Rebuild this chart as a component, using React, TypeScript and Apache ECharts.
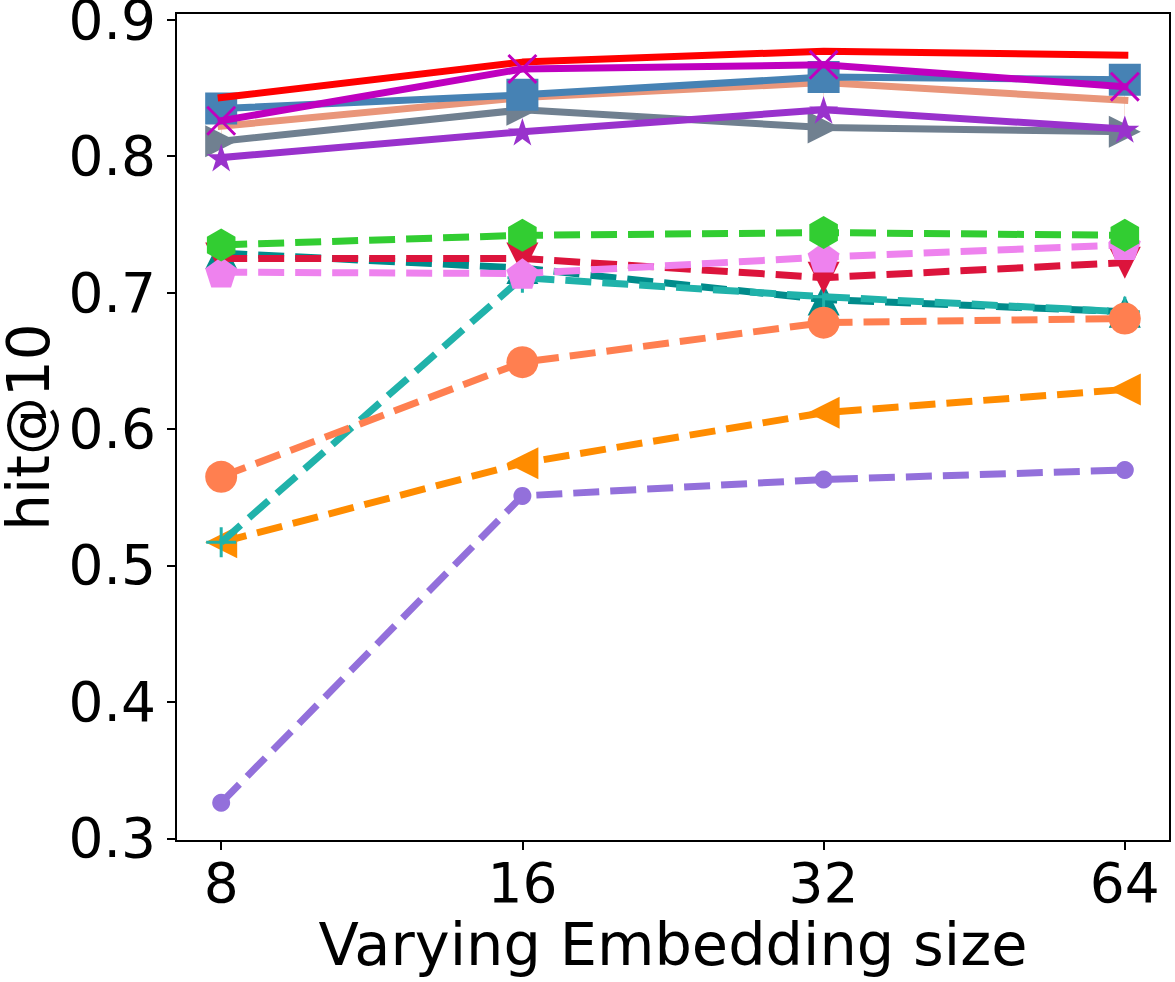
import React, { useEffect, useRef } from "react";
import * as echarts from "echarts";

// Embedding sizes on the x axis
const sizes = ["8", "16", "32", "64"];
const yTicks = [0.3, 0.4, 0.5, 0.6, 0.7, 0.8, 0.9];

// hit@10 per embedding size, one list per method
const redVals = [0.843, 0.869, 0.877, 0.874];
const magentaVals = [0.826, 0.864, 0.867, 0.851];
const steelVals = [0.835, 0.845, 0.858, 0.856];
const salmonVals = [0.822, 0.843, 0.854, 0.841];
const grayVals = [0.811, 0.834, 0.821, 0.818];
const orchidVals = [0.799, 0.818, 0.834, 0.820];
const greenVals = [0.735, 0.742, 0.744, 0.742];
const violetVals = [0.715, 0.714, 0.726, 0.735];
const crimsonVals = [0.725, 0.725, 0.711, 0.722];
const cyanVals = [0.729, 0.718, 0.695, 0.686];
const seaVals = [0.517, 0.711, 0.697, 0.686];
const coralVals = [0.565, 0.649, 0.678, 0.681];
const orangeVals = [0.517, 0.575, 0.612, 0.629];
const purpleVals = [0.326, 0.551, 0.563, 0.570];

// marker outlines
const P_X =
  "path://M0,7L7,0L50,43L93,0L100,7L57,50L100,93L93,100L50,57L7,100L0,93L43,50Z";
const P_PLUS =
  "path://M45,0L55,0L55,45L100,45L100,55L55,55L55,100L45,100L45,55L0,55L0,45L45,45Z";
const P_VLINE = "path://M0,0L10,0L10,100L0,100Z";
const P_HEX = "path://M50,0L93.3,25L93.3,75L50,100L6.7,75L6.7,25Z";
const P_PENT = "path://M50,0L97.6,34.5L79.4,90.5L20.6,90.5L2.4,34.5Z";
const P_STAR =
  "path://M50,0L61.2,34.5L97.6,34.5L68.2,55.9L79.4,90.5L50,69.1L20.6,90.5L31.8,55.9L2.4,34.5L38.8,34.5Z";
const P_UP = "path://M50,0L100,100L0,100Z";
const P_DOWN = "path://M0,0L100,0L50,100Z";
const P_LEFT = "path://M0,50L100,0L100,100Z";
const P_RIGHT = "path://M0,0L100,50L0,100Z";

const FONT = "DejaVu Sans";

type Spec = {
  name: string;
  vals: number[];
  color: string;
  symbol: string;
  size: number | number[];
  dashed: boolean;
};

// drawing order: later entries sit on top
const specs: Spec[] = [
  { name: "salmon", vals: salmonVals, color: "#E9967A", symbol: P_VLINE, size: [3, 30], dashed: false },
  { name: "gray", vals: grayVals, color: "#708090", symbol: P_RIGHT, size: 32, dashed: false },
  { name: "steel", vals: steelVals, color: "#4682B4", symbol: "rect", size: 32, dashed: false },
  { name: "red", vals: redVals, color: "#FF0000", symbol: "none", size: 0, dashed: false },
  { name: "magenta", vals: magentaVals, color: "#BF00BF", symbol: P_X, size: 30, dashed: false },
  { name: "orchid", vals: orchidVals, color: "#9932CC", symbol: P_STAR, size: 29, dashed: false },
  { name: "purple", vals: purpleVals, color: "#9370DB", symbol: "circle", size: 18, dashed: true },
  { name: "orange", vals: orangeVals, color: "#FF8C00", symbol: P_LEFT, size: 32, dashed: true },
  { name: "cyan", vals: cyanVals, color: "#008B8B", symbol: P_UP, size: 32, dashed: true },
  { name: "sea", vals: seaVals, color: "#20B2AA", symbol: P_PLUS, size: 30, dashed: true },
  { name: "coral", vals: coralVals, color: "#FF7F50", symbol: "circle", size: 32, dashed: true },
  { name: "crimson", vals: crimsonVals, color: "#DC143C", symbol: P_DOWN, size: 32, dashed: true },
  { name: "violet", vals: violetVals, color: "#EE82EE", symbol: P_PENT, size: 32, dashed: true },
  { name: "green", vals: greenVals, color: "#32CD32", symbol: P_HEX, size: 33, dashed: true },
];

export default function App() {
  const ref = useRef<HTMLDivElement>(null);

  useEffect(() => {
    if (!ref.current) return;
    const chart = echarts.init(ref.current, null, { renderer: "svg" });

    const series = specs.map((s, i) => ({
      name: s.name,
      type: "line",
      data: s.vals.map((v, k) => [k, v]),
      symbol: s.symbol,
      symbolSize: s.size,
      symbolKeepAspect: true,
      showSymbol: s.symbol !== "none",
      z: 2 + i,
      itemStyle: { color: s.color, opacity: 1 },
      lineStyle: {
        color: s.color,
        width: 7,
        type: s.dashed ? [26, 11] : "solid",
        cap: s.dashed ? "butt" : "square",
        join: "round",
      },
      emphasis: { disabled: true },
      silent: true,
    }));

    chart.setOption({
      animation: false,
      backgroundColor: "#ffffff",
      grid: {
        left: 176,
        top: 13,
        right: 5,
        bottom: 141,
        outerBoundsMode: "none",
        containLabel: false,
        show: true,
        borderColor: "#000000",
        borderWidth: 2,
        backgroundColor: "transparent",
      },
      xAxis: {
        type: "value",
        min: -0.15,
        max: 3.15,
        name: "Varying Embedding size",
        nameLocation: "middle",
        nameGap: 55,
        nameTextStyle: { fontFamily: FONT, fontSize: 59, color: "#000" },
        axisLine: { show: true, onZero: false, lineStyle: { color: "#000", width: 2 } },
        axisTick: {
          show: true,
          inside: false,
          length: 9,
          lineStyle: { color: "#000", width: 2 },
          customValues: [0, 1, 2, 3],
        },
        axisLabel: {
          fontFamily: FONT,
          fontSize: 55,
          color: "#000",
          margin: 14,
          customValues: [0, 1, 2, 3],
          formatter: (v: number) => sizes[Math.round(v)] ?? "",
        },
        splitLine: { show: false },
      },
      yAxis: {
        type: "value",
        min: 0.298,
        max: 0.905,
        name: "hit@10",
        nameLocation: "middle",
        nameGap: 108,
        nameTextStyle: { fontFamily: FONT, fontSize: 58, lineHeight: 54, color: "#000" },
        axisLine: { show: true, onZero: false, lineStyle: { color: "#000", width: 2 } },
        axisTick: {
          show: true,
          inside: false,
          length: 9,
          lineStyle: { color: "#000", width: 2 },
          customValues: yTicks,
        },
        axisLabel: {
          fontFamily: FONT,
          fontSize: 55,
          lineHeight: 38,
          color: "#000",
          margin: 20,
          customValues: yTicks,
          formatter: (v: number) => v.toFixed(1),
        },
        splitLine: { show: false },
      },
      series,
    });

    return () => chart.dispose();
  }, []);

  return (
    <div
      ref={ref}
      style={{ position: "fixed", left: 0, top: 0, width: 1175, height: 982, background: "#fff" }}
    />
  );
}
